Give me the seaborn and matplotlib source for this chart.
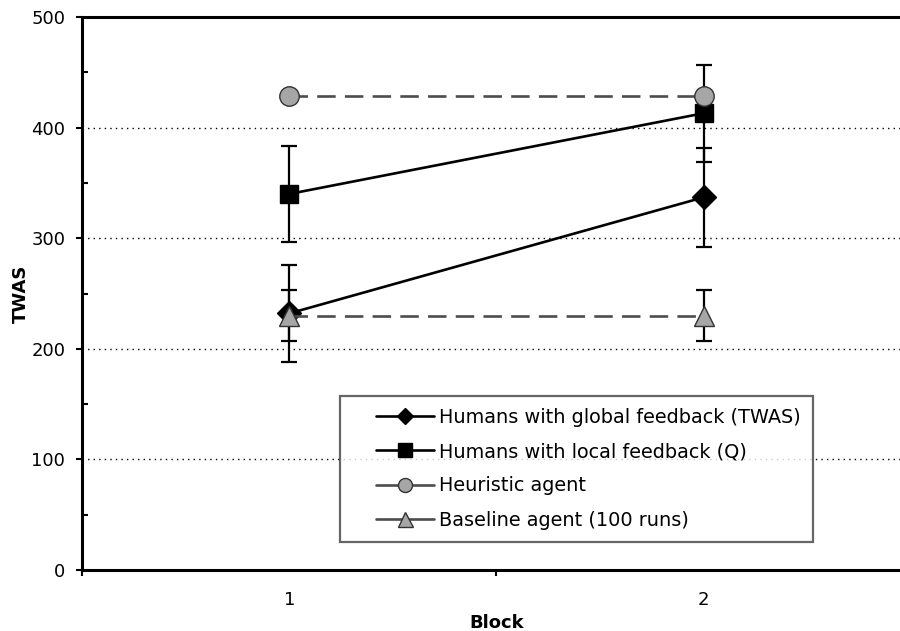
import numpy as np
import pandas as pd
import seaborn as sns
import matplotlib.pyplot as plt
from matplotlib.lines import Line2D
from matplotlib.legend_handler import HandlerLine2D
from matplotlib.ticker import MultipleLocator, FixedLocator

# values
blocks = [1, 2]
global_fb = [232, 337]
global_err = [44, 45]
local_fb = [340, 413]
local_err = [43, 44]
heuristic = [429, 429]
baseline = [230, 230]
baseline_err = [23, 23]

labels = ["Humans with global feedback (TWAS)", "Humans with local feedback (Q)",
          "Heuristic agent", "Baseline agent (100 runs)"]

sns.set_style("white")
plt.rcParams['font.family'] = ['DejaVu Sans']
plt.rcParams['text.color'] = 'black'
plt.rcParams['axes.labelcolor'] = 'black'
plt.rcParams['xtick.color'] = 'black'
plt.rcParams['ytick.color'] = 'black'


class OffsetHandler(HandlerLine2D):
    """Legend handle drawn only in the right part of the handle box (extra left padding)."""
    def create_artists(self, legend, orig_handle, xdescent, ydescent, width, height, fontsize, trans):
        shift = width * 0.3
        return super().create_artists(legend, orig_handle, xdescent - shift, ydescent,
                                      width - shift, height, fontsize, trans)


fig = plt.figure(figsize=(9, 6.31), dpi=100)
ax = fig.add_axes([82 / 900, 1 - 570 / 631, (911 - 82) / 900, (570 - 17) / 631])

gray = '#a6a6a6'
dash_col = '#4d4d4d'
dash = (0, (7, 3.5))

series = [
    (global_fb, global_err, 'D', 12, 'black', 'black', '-', 'black'),
    (local_fb, local_err, 's', 13.5, 'black', 'black', '-', 'black'),
    (heuristic, None, 'o', 14, gray, '#333333', dash, dash_col),
    (baseline, baseline_err, '^', 15, gray, '#333333', dash, dash_col),
]

handles = []
for i, (vals, err, mk, ms, fc, ec, ls, lc) in enumerate(series):
    df = pd.DataFrame({'Block': blocks, 'TWAS': vals})
    if err is not None:
        ax.errorbar(blocks, vals, yerr=err, fmt='none', ecolor='black',
                    elinewidth=1.6, capsize=6, capthick=1.6, zorder=2 + i)
    sns.lineplot(data=df, x='Block', y='TWAS', ax=ax, color=lc, lw=1.9,
                 linestyle=ls, marker=mk, markersize=ms, markerfacecolor=fc,
                 markeredgecolor=ec, markeredgewidth=1, zorder=3 + i)
    handles.append(Line2D([], [], color=lc, lw=1.9, linestyle='-', marker=mk,
                          markersize=ms * 0.72, markerfacecolor=fc,
                          markeredgecolor=ec, markeredgewidth=1))

ax.set_xlim(0.5, 2.5)
ax.set_ylim(0, 500)
ax.xaxis.set_major_locator(FixedLocator(blocks))
ax.xaxis.set_minor_locator(FixedLocator([0.5, 1.5, 2.5]))
ax.yaxis.set_major_locator(MultipleLocator(100))
ax.yaxis.set_minor_locator(MultipleLocator(50))
ax.tick_params(axis='x', which='major', length=0, pad=15, labelsize=13)
ax.tick_params(axis='x', which='minor', length=4.5, width=1.5, direction='out')
ax.tick_params(axis='y', which='major', length=4, width=1.5, direction='out',
               labelsize=13, pad=8)
ax.tick_params(axis='y', which='minor', length=4.5, width=1.5, direction='in')
ax.tick_params(which='both', bottom=True, left=True, color='black')

for y in [100, 200, 300, 400]:
    ax.axhline(y, color='black', lw=1, linestyle=(0, (1, 3)), zorder=1)

for s in ax.spines.values():
    s.set_visible(True)
    s.set_color('black')
    s.set_linewidth(2.2)

ax.set_xlabel('Block', fontsize=13, fontweight='bold')
ax.set_ylabel('TWAS', fontsize=13, fontweight='bold')
ax.xaxis.set_label_coords(0.5, -0.08)
ax.yaxis.set_label_coords(-0.063, 0.5)

leg = ax.legend(handles, labels, loc='upper left',
                bbox_to_anchor=(258 / 829, 1 - (396 - 17) / 553),
                handler_map={Line2D: OffsetHandler()},
                fontsize=13.9, frameon=True, fancybox=False, handlelength=4.25,
                borderpad=0.6, labelspacing=0.8, handletextpad=0.3, borderaxespad=0)
leg.get_frame().set_edgecolor('#404040')
leg.get_frame().set_linewidth(1.6)

fig.savefig('out.png', dpi=100)
